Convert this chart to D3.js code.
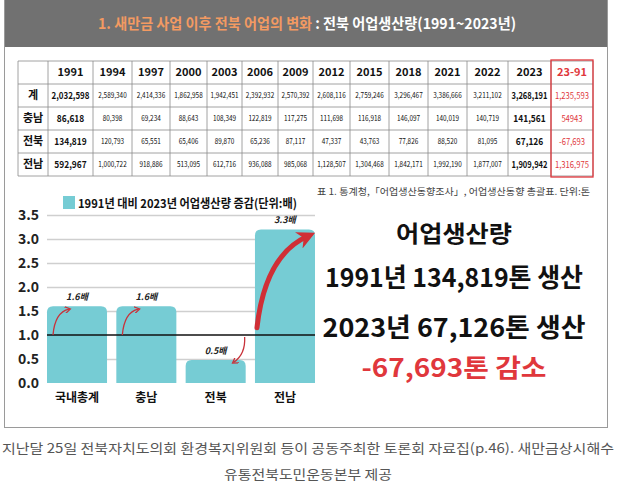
<!DOCTYPE html>
<html>
<head>
<meta charset="utf-8">
<script src="https://cdn.jsdelivr.net/npm/d3@7"></script>
<style>
  body { margin: 0; background: #fff; }
  text { font-family: "Noto Sans CJK KR", "Noto Sans", sans-serif; }
</style>
</head>
<body>
<div id="chart"></div>
<script>
// table data (tons)
const years = ["1991","1994","1997","2000","2003","2006","2009","2012","2015","2018","2021","2022","2023"];
const regions = ["계","충남","전북","전남"];
const total    = [2032598,2589340,2414336,1862958,1942451,2392932,2570392,2608116,2759246,3296467,3386666,3211102,3268191];
const chungnam = [86618,80398,69234,88643,108349,122819,117275,111698,116918,146097,140019,140719,141561];
const jeonbuk  = [134819,120793,65551,65406,89870,65236,87117,47337,43763,77826,88520,81095,67126];
const jeonnam  = [592967,1000722,918886,513095,612716,936088,985068,1128507,1304468,1842171,1992190,1877007,1909942];
const diffLabels = ["1,235,593","54943","-67,693","1,316,975"];

// bar chart data (배)
const categories = ["국내총계","충남","전북","전남"];
const ratios = [1.6, 1.6, 0.48, 3.2];
const ratioLabels = ["1.6배","1.6배","0.5배","3.3배"];
const yTicks = [0, 0.5, 1.0, 1.5, 2.0, 2.5, 3.0, 3.5];

const W = 623, H = 486;
const teal = "#76ccd4", red = "#e0373c";

const svg = d3.select("#chart").append("svg")
    .attr("width", W).attr("height", H);

// outer box + header band
svg.append("rect").attr("x", 4.5).attr("y", 0.5).attr("width", 603).attr("height", 427)
    .attr("fill", "#fff").attr("stroke", "#9a9a9a");
svg.append("rect").attr("x", 5).attr("y", 0).attr("width", 602).attr("height", 47)
    .attr("fill", "#717171");

const title = svg.append("text").attr("x", 307).attr("y", 29)
    .attr("text-anchor", "middle").attr("font-size", 15).attr("font-weight", 700)
    .attr("textLength", 418).attr("lengthAdjust", "spacingAndGlyphs");
title.append("tspan").attr("fill", "#f39a62").text("1. 새만금 사업 이후 전북 어업의 변화");
title.append("tspan").attr("fill", "#fff").text(" : 전북 어업생산량(1991~2023년)");

// ---- table ----
const colEdges = [18, 48, 93, 132, 170, 207, 242, 278, 313, 350, 389, 428, 467, 508, 551, 593];
const rowEdges = [61, 84, 107, 130, 153, 176];
const rows = [total, chungnam, jeonbuk, jeonnam];
const fmt = d3.format(",");
const tbl = svg.append("g");

// grid lines
colEdges.forEach(x => {
  tbl.append("line").attr("x1", x).attr("x2", x).attr("y1", rowEdges[0]).attr("y2", rowEdges[5])
    .attr("stroke", "#8a8a8a").attr("stroke-width", 0.8);
});
rowEdges.forEach(y => {
  tbl.append("line").attr("x1", colEdges[0]).attr("x2", colEdges[15]).attr("y1", y).attr("y2", y)
    .attr("stroke", "#8a8a8a").attr("stroke-width", 0.8);
});
// red outline on last column
tbl.append("rect").attr("x", colEdges[14]).attr("y", rowEdges[0] - 1)
    .attr("width", colEdges[15] - colEdges[14]).attr("height", rowEdges[5] - rowEdges[0] + 2)
    .attr("fill", "none").attr("stroke", red).attr("stroke-width", 1.3);

function cell(col, row, str, opts) {
  const cx = (colEdges[col] + colEdges[col + 1]) / 2;
  const cy = (rowEdges[row] + rowEdges[row + 1]) / 2;
  const avail = colEdges[col + 1] - colEdges[col] - 7;
  const t = tbl.append("text").attr("x", cx).attr("y", cy).attr("dy", "0.36em")
    .attr("text-anchor", "middle")
    .attr("font-size", opts.size).attr("font-weight", opts.bold ? 700 : 400)
    .attr("fill", opts.color || "#111").text(str);
  const len = t.node().getComputedTextLength();
  const target = opts.squeeze ? Math.min(avail, len * opts.squeeze) : avail;
  if (len > target) t.attr("textLength", target).attr("lengthAdjust", "spacingAndGlyphs");
}

years.forEach((yr, i) => cell(i + 1, 0, yr, {size: 11, bold: true}));
cell(14, 0, "23-91", {size: 11, bold: true, color: red});
regions.forEach((r, j) => {
  cell(0, j + 1, r, {size: 11, bold: true});
  rows[j].forEach((v, i) => {
    const bold = (i === 0 || i === years.length - 1);
    cell(i + 1, j + 1, fmt(v), {size: bold ? 9.5 : 8, bold: bold, squeeze: bold ? 0.88 : 0.8});
  });
  cell(14, j + 1, diffLabels[j], {size: 9, color: red, squeeze: 0.85});
});

svg.append("text").attr("x", 317).attr("y", 195)
    .attr("font-size", 9.5).attr("fill", "#444")
    .attr("textLength", 273).attr("lengthAdjust", "spacingAndGlyphs")
    .text("표 1. 통계청,「어업생산동향조사」, 어업생산동향 총괄표. 단위:톤");

// ---- bar chart ----
svg.append("rect").attr("x", 63).attr("y", 196).attr("width", 12).attr("height", 13).attr("fill", teal);
svg.append("text").attr("x", 78).attr("y", 207.5)
    .attr("font-size", 12).attr("font-weight", 700).attr("fill", "#111")
    .attr("textLength", 219).attr("lengthAdjust", "spacingAndGlyphs")
    .text("1991년 대비 2023년 어업생산량 증감(단위:배)");

const x = d3.scaleBand().domain(categories).range([47, 315]).paddingInner(0.134).paddingOuter(0);
const y = d3.scaleLinear().domain([0, 3.5]).range([383, 215]);

// gridlines
svg.append("g")
    .attr("transform", "translate(47,0)")
    .call(d3.axisLeft(y).tickValues(yTicks.filter(d => d > 0 && d !== 1)).tickSize(-268).tickFormat(""))
    .call(g => g.select(".domain").remove())
    .call(g => g.selectAll("line").attr("stroke", "#cfcfcf").attr("stroke-width", 1.5));

// bars with rounded tops
const r = 6;
svg.append("g").selectAll("path")
  .data(ratios)
  .join("path")
    .attr("fill", teal)
    .attr("d", (d, i) => {
      const x0 = x(categories[i]), w = x.bandwidth(), y0 = y(d), yb = y(0);
      return `M${x0},${yb}V${y0 + r}Q${x0},${y0} ${x0 + r},${y0}H${x0 + w - r}Q${x0 + w},${y0} ${x0 + w},${y0 + r}V${yb}Z`;
    });

// baseline 1.0
svg.append("line").attr("x1", 47).attr("x2", 315).attr("y1", y(1)).attr("y2", y(1))
    .attr("stroke", "#111").attr("stroke-width", 1.6);

// y tick labels
svg.append("g")
    .attr("transform", "translate(39,0)")
    .call(d3.axisLeft(y).tickValues(yTicks).tickSize(0).tickPadding(0).tickFormat(d3.format(".1f")))
    .call(g => g.select(".domain").remove())
    .call(g => g.selectAll("text")
      .attr("font-family", "'Liberation Sans', Arial, sans-serif")
      .attr("font-size", 14).attr("font-weight", 700).attr("fill", "#222"));

// value labels
svg.append("g").selectAll("text")
  .data(ratioLabels)
  .join("text")
    .attr("x", (d, i) => x(categories[i]) + x.bandwidth() / 2)
    .attr("y", (d, i) => y(ratios[i]) - 6)
    .attr("text-anchor", "middle")
    .attr("font-size", 9).attr("font-weight", 700).attr("font-style", "italic").attr("fill", "#222")
    .text(d => d);

// category labels
svg.append("g").selectAll("text")
  .data(categories)
  .join("text")
    .attr("x", d => x(d) + x.bandwidth() / 2)
    .attr("y", 402)
    .attr("text-anchor", "middle")
    .attr("font-size", 12).attr("font-weight", 700).attr("fill", "#111")
    .text(d => d);

// arrows
const defs = svg.append("defs");
defs.append("marker").attr("id", "headS").attr("viewBox", "0 0 10 10")
    .attr("refX", 6).attr("refY", 5).attr("markerWidth", 7).attr("markerHeight", 7)
    .attr("markerUnits", "userSpaceOnUse").attr("orient", "auto")
  .append("path").attr("d", "M0,0 L8,5 L0,10").attr("fill", "none")
    .attr("stroke", "#c8323a").attr("stroke-width", 1.8);
defs.append("marker").attr("id", "headL").attr("viewBox", "0 0 10 10")
    .attr("refX", 5).attr("refY", 5).attr("markerWidth", 18).attr("markerHeight", 18)
    .attr("markerUnits", "userSpaceOnUse").attr("orient", "auto")
  .append("path").attr("d", "M0,0 L10,5 L0,10 L3,5 Z").attr("fill", "#d02f36");

[0, 1].forEach(i => {
  const bx = x(categories[i]);
  svg.append("path")
    .attr("d", `M${bx + 6},${y(1)} Q${bx + 8},${y(ratios[i]) + 6} ${bx + 22},${y(ratios[i]) + 3}`)
    .attr("fill", "none").attr("stroke", "#c8323a").attr("stroke-width", 1.3)
    .attr("marker-end", "url(#headS)");
});
{
  const bx = x(categories[2]);
  svg.append("path")
    .attr("d", `M${bx + 59},${y(1) + 2} Q${bx + 60},${y(0.6)} ${bx + 48},${y(0.43)}`)
    .attr("fill", "none").attr("stroke", "#c8323a").attr("stroke-width", 1.3)
    .attr("marker-end", "url(#headS)");
}
{
  const bx = x(categories[3]);
  svg.append("path")
    .attr("d", `M${bx + 2},${y(1.15)} Q${bx + 10},${y(2.65)} ${bx + 52},${y(3.05)}`)
    .attr("fill", "none").attr("stroke", "#d02f36").attr("stroke-width", 5)
    .attr("stroke-linecap", "round")
    .attr("marker-end", "url(#headL)");
}

// ---- right-side summary ----
const big = [
  {t: "어업생산량", y: 242, size: 23, len: 116, c: "#111"},
  {t: "1991년 134,819톤 생산", y: 287, size: 26, len: 258, c: "#111"},
  {t: "2023년 67,126톤 생산", y: 337, size: 26, len: 263, c: "#111"},
  {t: "-67,693톤 감소", y: 377, size: 25, len: 185, c: red}
];
svg.append("g").selectAll("text")
  .data(big)
  .join("text")
    .attr("x", 454).attr("y", d => d.y)
    .attr("text-anchor", "middle")
    .attr("font-size", d => d.size).attr("font-weight", 700).attr("fill", d => d.c)
    .attr("textLength", d => d.len).attr("lengthAdjust", "spacingAndGlyphs")
    .text(d => d.t);

// ---- footer caption ----
svg.append("text").attr("x", 2).attr("y", 453)
    .attr("font-size", 13).attr("fill", "#555")
    .attr("textLength", 612).attr("lengthAdjust", "spacingAndGlyphs")
    .text("지난달 25일 전북자치도의회 환경복지위원회 등이 공동주최한 토론회 자료집(p.46). 새만금상시해수");
svg.append("text").attr("x", 308).attr("y", 479)
    .attr("text-anchor", "middle")
    .attr("font-size", 13).attr("fill", "#555")
    .attr("textLength", 168).attr("lengthAdjust", "spacingAndGlyphs")
    .text("유통전북도민운동본부 제공");
</script>
</body>
</html>
